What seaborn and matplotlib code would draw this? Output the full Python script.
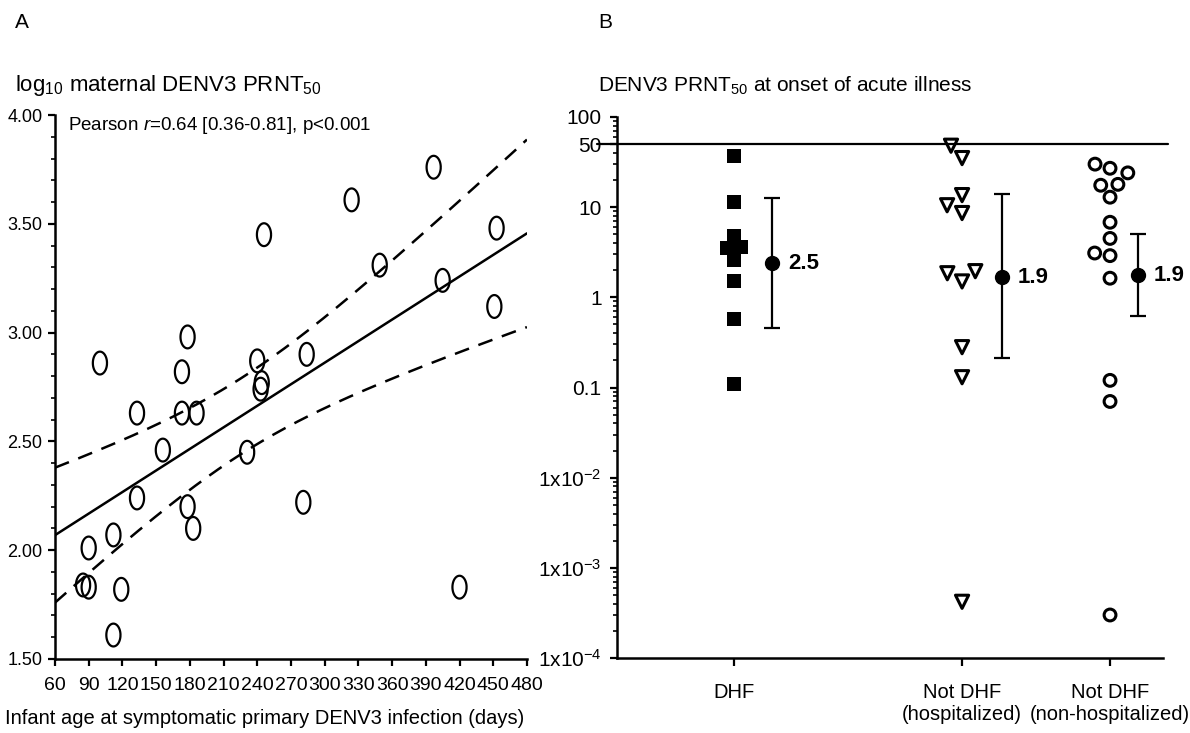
import numpy as np
import matplotlib
matplotlib.use('Agg')
import matplotlib.pyplot as plt
from matplotlib.path import Path
from matplotlib.ticker import MultipleLocator, LogLocator, NullFormatter
import seaborn as sns

# Panel A: infant age at infection vs log10 maternal DENV3 PRNT50
age_days = [100, 178, 173, 240, 246, 244, 243, 284, 324, 349, 397, 405, 453, 451,
            133, 173, 186, 156, 133, 231, 178, 183, 281, 112, 90, 85, 90, 119, 112, 420]
log_prnt = [2.86, 2.98, 2.82, 2.87, 3.45, 2.77, 2.74, 2.90, 3.61, 3.31, 3.76, 3.24, 3.48, 3.12,
            2.63, 2.63, 2.63, 2.46, 2.24, 2.45, 2.20, 2.10, 2.22, 2.07, 2.01, 1.84, 1.83, 1.82, 1.61, 1.83]
x_ticks_a = list(range(60, 481, 30))
y_ticks_a = [1.5, 2.0, 2.5, 3.0, 3.5, 4.0]

# Panel B: DENV3 PRNT50 at onset of acute illness
dhf = [37, 11.4, 4.8, 3.6, 3.5, 2.6, 1.5, 0.58, 0.11]
not_dhf_hosp = [48, 35, 13.6, 10.5, 8.6, 1.95, 1.85, 1.5, 0.28, 0.13, 0.00042]
not_dhf_nonhosp = [30, 27, 24, 17.9, 17.5, 12.9, 6.8, 4.5, 3.1, 2.9, 1.63, 0.12, 0.07, 0.0003]
group_labels = ['DHF', 'Not DHF\n(hospitalized)', 'Not DHF\n(non-hospitalized)']
gm_mid = [2.4, 1.67, 1.75]
gm_low = [0.46, 0.21, 0.62]
gm_high = [12.5, 13.9, 5.0]
gm_text = ['2.5', '1.9', '1.9']
y_ticks_b = [1e-4, 1e-3, 1e-2, 0.1, 1, 10, 50, 100]
y_ticklabels_b = ['1x10$^{-4}$', '1x10$^{-3}$', '1x10$^{-2}$', '0.1', '1', '10', '50', '100']

# layout (axes fraction positions along panel B's x axis)
group_x = [0.214, 0.632, 0.903]
bar_x = [0.284, 0.705, 0.954]
text_x = [0.314, 0.733, 0.982]

sns.set_style('ticks')
plt.rcParams['font.family'] = ['Liberation Sans', 'DejaVu Sans']
plt.rcParams['mathtext.fontset'] = 'custom'
plt.rcParams['mathtext.rm'] = 'Liberation Sans'
plt.rcParams['mathtext.it'] = 'Liberation Sans:italic'
plt.rcParams['mathtext.bf'] = 'Liberation Sans:bold'
plt.rcParams['axes.linewidth'] = 1.8
for key in ['text.color', 'axes.labelcolor', 'xtick.color', 'ytick.color', 'axes.edgecolor']:
    plt.rcParams[key] = 'black'

fig = plt.figure(figsize=(11.9, 7.33), dpi=100)
axA = fig.add_axes([0.0462, 0.101, 0.3966, 0.7421])
axB = fig.add_axes([0.5185, 0.1023, 0.4588, 0.7381])

# ---- panel A ----
axA.set_xlim(60, 480)
axA.set_ylim(1.5, 4.0)
sns.regplot(x=age_days, y=log_prnt, ax=axA, scatter=False, ci=None, truncate=False,
            color='black', line_kws={'lw': 1.8})

# 95% confidence band of the regression line
x = np.array(age_days, dtype=float)
y = np.array(log_prnt)
n = len(x)
slope, intercept = np.polyfit(x, y, 1)
s = np.sqrt(np.sum((y - (slope * x + intercept)) ** 2) / (n - 2))
t_crit = 2.048
xs = np.linspace(60, 480, 200)
fit = slope * xs + intercept
half = t_crit * s * np.sqrt(1 / n + (xs - x.mean()) ** 2 / np.sum((x - x.mean()) ** 2))
axA.plot(xs, fit + half, color='black', lw=1.8, linestyle=(0, (6, 4)))
axA.plot(xs, fit - half, color='black', lw=1.8, linestyle=(0, (6, 4)))

theta = np.linspace(0, 2 * np.pi, 64)
ring = Path(np.column_stack([0.62 * np.cos(theta), np.sin(theta)]))
sns.scatterplot(x=age_days, y=log_prnt, ax=axA, marker=ring, s=270, color='black', zorder=3)
pts = axA.collections[-1]
pts.set_facecolor('none')
pts.set_edgecolor('black')
pts.set_linewidth(1.6)

axA.set_xticks(x_ticks_a)
axA.set_yticks(y_ticks_a)
axA.set_yticklabels(['%.2f' % v for v in y_ticks_a])
axA.yaxis.set_minor_locator(MultipleLocator(0.1))
axA.tick_params(axis='both', which='major', direction='out', length=5, width=1.6,
                labelsize=14, pad=4)
axA.tick_params(axis='y', labelsize=13)
axA.tick_params(axis='y', which='minor', direction='out', length=3, width=1.2)
axA.tick_params(axis='x', pad=8)
axA.set_xlim(60, 480)
axA.set_ylim(1.5, 4.0)
sns.despine(ax=axA)

# ---- panel B ----
axB.set_yscale('log')
axB.set_ylim(1e-4, 100)
axB.set_xlim(0, 1)
for vals, pos, mk in zip([dhf, not_dhf_hosp, not_dhf_nonhosp], group_x, ['s', 'v', 'o']):
    sns.swarmplot(x=[pos] * len(vals), y=vals, ax=axB, native_scale=True, orient='x',
                  marker=mk, color='black', size=9.5 if mk != 'o' else 8.5)
for coll in axB.collections[1:]:
    coll.set_facecolor('none')
    coll.set_edgecolor('black')
    coll.set_linewidth(2.2)

mid = np.array(gm_mid)
axB.errorbar(bar_x, mid, yerr=[mid - np.array(gm_low), np.array(gm_high) - mid],
             fmt='o', color='black', ms=10, capsize=6, elinewidth=1.6, capthick=1.6)
for tx, ty, lab in zip(text_x, gm_mid, gm_text):
    axB.text(tx, ty, lab, fontsize=16, fontweight='bold', va='center', ha='left')

axB.axhline(50, xmin=-0.037, xmax=1.01, color='black', lw=1.6, clip_on=False)

axB.set_yticks(y_ticks_b)
axB.set_yticklabels(y_ticklabels_b)
axB.yaxis.set_minor_locator(LogLocator(base=10, subs=np.arange(2, 10)))
axB.yaxis.set_minor_formatter(NullFormatter())
axB.set_xticks(group_x)
axB.set_xticklabels(group_labels)
axB.tick_params(axis='y', which='major', direction='out', length=5, width=1.6,
                labelsize=15, pad=6)
axB.tick_params(axis='y', which='minor', direction='out', length=3, width=1.2)
axB.tick_params(axis='x', direction='out', length=6, width=1.6, labelsize=14.5, pad=12)
axB.set_xlim(0, 1)
axB.set_ylim(1e-4, 100)
axB.set_xlabel('')
axB.set_ylabel('')
sns.despine(ax=axB)

# ---- text ----
fig.text(15 / 1190, 1 - 22 / 733, 'A', fontsize=15, va='center')
fig.text(598 / 1190, 1 - 22 / 733, 'B', fontsize=15, va='center')
fig.text(15 / 1190, 1 - 86 / 733, r'log$_{\mathregular{10}}$ maternal DENV3 PRNT$_{\mathregular{50}}$',
         fontsize=16, va='center')
fig.text(598 / 1190, 1 - 86 / 733, r'DENV3 PRNT$_{\mathregular{50}}$ at onset of acute illness',
         fontsize=15, va='center')
fig.text(68 / 1190, 1 - 125 / 733, r'Pearson $r$=0.64 [0.36-0.81], p<0.001', fontsize=13.5, va='center')
fig.text(265 / 1190, 1 - 718 / 733, 'Infant age at symptomatic primary DENV3 infection (days)',
         fontsize=14.5, va='center', ha='center')

fig.savefig('out.png', dpi=100)
